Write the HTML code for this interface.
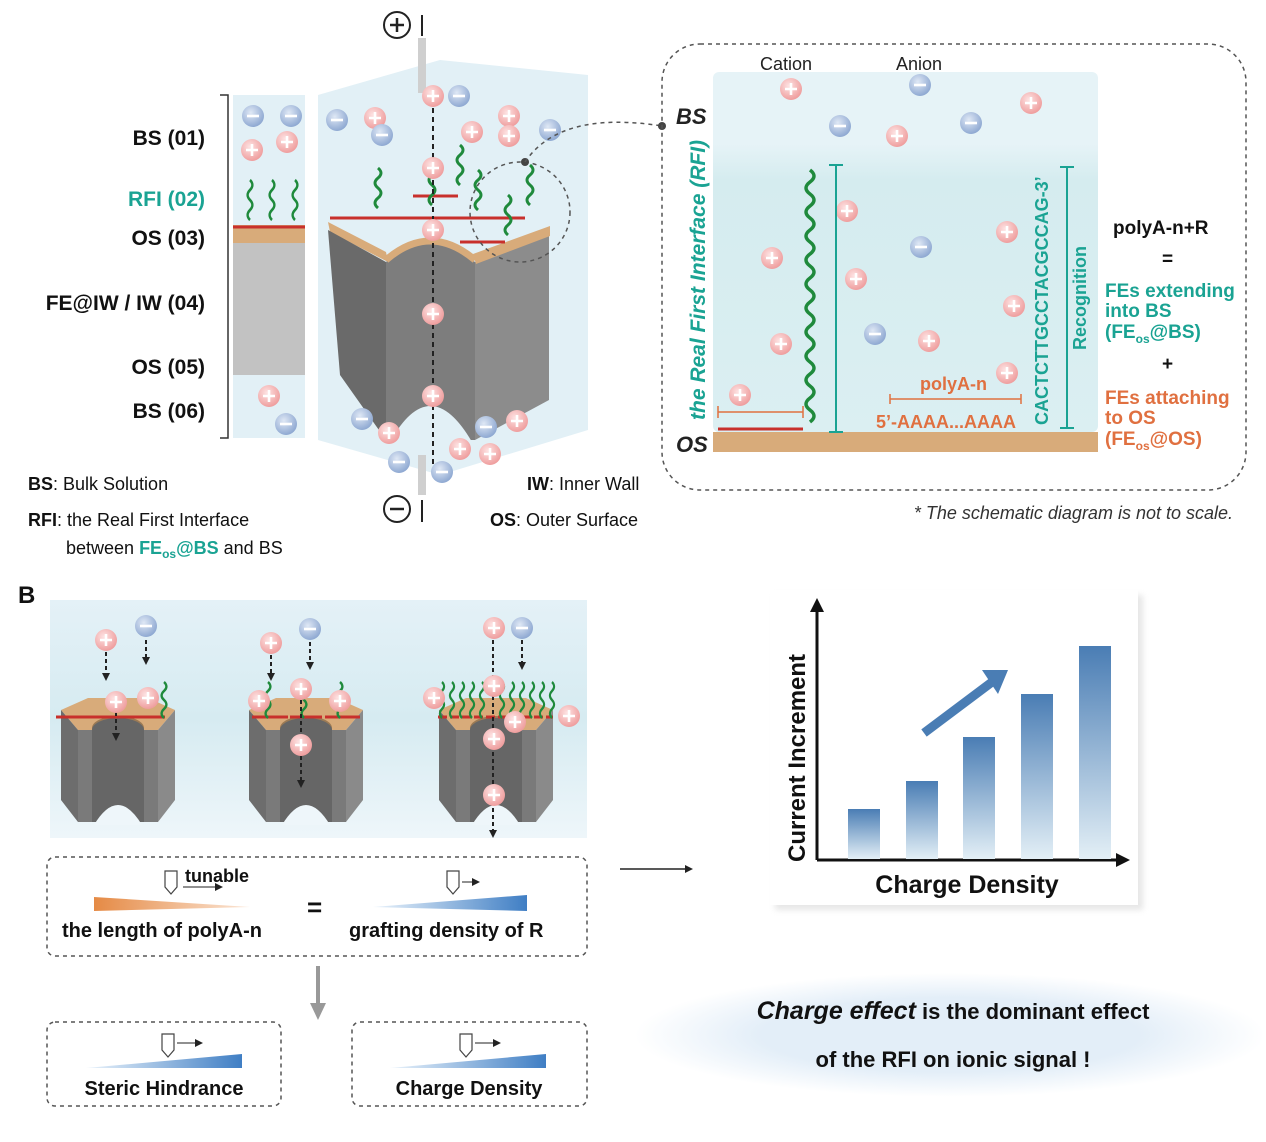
<!DOCTYPE html>
<html><head><meta charset="utf-8"><style>
body{margin:0;background:#fff}
svg{display:block;font-family:"Liberation Sans",Arial,sans-serif}
</style></head><body>
<svg width="1266" height="1142" viewBox="0 0 1266 1142" xmlns="http://www.w3.org/2000/svg">
<defs>
<radialGradient id="gp" cx="40%" cy="35%" r="65%"><stop offset="0" stop-color="#fde3e3"/><stop offset="1" stop-color="#ef9e9e"/></radialGradient>
<radialGradient id="gb" cx="40%" cy="35%" r="65%"><stop offset="0" stop-color="#dfe8f5"/><stop offset="1" stop-color="#8fa9d2"/></radialGradient>
<symbol id="p" viewBox="-12 -12 24 24" overflow="visible"><circle r="11" fill="url(#gp)"/><path d="M-6 0H6M0 -6V6" stroke="#fff" stroke-width="2.6"/></symbol>
<symbol id="n" viewBox="-12 -12 24 24" overflow="visible"><circle r="11" fill="url(#gb)"/><path d="M-6 0H6" stroke="#fff" stroke-width="2.6"/></symbol>
<linearGradient id="bar" x1="0" y1="0" x2="0" y2="1"><stop offset="0" stop-color="#4a7db4"/><stop offset="1" stop-color="#e3eff6"/></linearGradient>
<linearGradient id="bg" x1="0" y1="0" x2="0" y2="1"><stop offset="0" stop-color="#e4f1f7"/><stop offset="0.5" stop-color="#d6ebf1"/><stop offset="1" stop-color="#eef6fa"/></linearGradient>
<linearGradient id="rb" x1="0" y1="0" x2="0" y2="1"><stop offset="0" stop-color="#e6f3f7"/><stop offset="0.2" stop-color="#e6f3f7"/><stop offset="0.3" stop-color="#d5ecef"/><stop offset="1" stop-color="#dbeff2"/></linearGradient>
<linearGradient id="or" x1="0" y1="0" x2="1" y2="0"><stop offset="0" stop-color="#e58a45"/><stop offset="1" stop-color="#fbe6d6"/></linearGradient>
<linearGradient id="bl" x1="0" y1="0" x2="1" y2="0"><stop offset="0" stop-color="#eaf3fb"/><stop offset="1" stop-color="#3f7ec4"/></linearGradient>
<radialGradient id="ell"><stop offset="0.6" stop-color="#e3eef8"/><stop offset="1" stop-color="#fff"/></radialGradient>
<marker id="ah" markerUnits="userSpaceOnUse" markerWidth="8" markerHeight="8" refX="5" refY="4" orient="auto"><path d="M0 0L8 4L0 8z" fill="#222"/></marker>
<path id="w" d="M0 0q6 5 0 10t0 10t0 10t0 10" fill="none" stroke="#1f8a3c" stroke-width="3"/>
<g id="sp">
 <polygon points="-57,10 -30,-2 30,-2 57,10 40,30 -40,30" fill="#d8ab7a"/>
 <ellipse cx="0" cy="28" rx="26" ry="12" fill="#9b7a55"/>
 <polygon points="-57,10 -40,30 -40,122 -57,100" fill="#6d6d6d"/>
 <polygon points="57,10 40,30 40,122 57,100" fill="#8a8a8a"/>
 <rect x="-40" y="30" width="80" height="92" fill="#7a7a7a"/>
 <path d="M-26 30 A26 12 0 0 1 26 30 V122 H-26z" fill="#666"/>
 <path d="M-24 125 Q0 85 24 125z" fill="#eef6fa"/>
</g>
</defs>

<g font-weight="bold" font-size="21" text-anchor="end" fill="#111">
<text x="205" y="145">BS  (01)</text>
<text x="205" y="206" fill="#1aa393">RFI  (02)</text>
<text x="205" y="245">OS  (03)</text>
<text x="205" y="310">FE@IW / IW  (04)</text>
<text x="205" y="374">OS  (05)</text>
<text x="205" y="418">BS  (06)</text>
</g>
<path d="M220 95H228V438H220" fill="none" stroke="#333" stroke-width="1.5"/>
<rect x="233" y="95" width="72" height="130" fill="#e2f0f6"/>
<rect x="233" y="225" width="72" height="18" fill="#d8ab7a"/>
<rect x="233" y="243" width="72" height="132" fill="#c2c2c2"/>
<rect x="233" y="375" width="72" height="63" fill="#e2f0f6"/>
<line x1="233" y1="227" x2="305" y2="227" stroke="#c8302c" stroke-width="3"/>
<use href="#n" x="241" y="104" width="24" height="24"/><use href="#n" x="279" y="104" width="24" height="24"/>
<use href="#p" x="240" y="138" width="24" height="24"/><use href="#p" x="275" y="130" width="24" height="24"/>
<use href="#p" x="257" y="384" width="24" height="24"/><use href="#n" x="274" y="412" width="24" height="24"/>
<use href="#w" transform="translate(250,180) scale(0.8,1)"/><use href="#w" transform="translate(272,180) scale(0.8,1)"/><use href="#w" transform="translate(295,180) scale(0.8,1)"/>

<g font-size="18" fill="#111">
<text x="28" y="490"><tspan font-weight="bold">BS</tspan>: Bulk Solution</text>
<text x="28" y="526"><tspan font-weight="bold">RFI</tspan>: the Real First Interface</text>
<text x="66" y="554">between <tspan fill="#1aa393" font-weight="bold">FE<tspan font-size="12" dy="4">os</tspan><tspan dy="-4">@BS</tspan></tspan> and BS</text>
<text x="527" y="490"><tspan font-weight="bold">IW</tspan>: Inner Wall</text>
<text x="490" y="526"><tspan font-weight="bold">OS</tspan>: Outer Surface</text>
</g>

<polygon points="318,95 440,60 588,75 588,430 440,475 318,440" fill="#e2f0f6"/>
<rect x="418" y="38" width="8" height="55" fill="#cfcfcf"/>
<rect x="418" y="455" width="8" height="40" fill="#cfcfcf"/>
<circle cx="397" cy="25" r="13" fill="none" stroke="#222" stroke-width="2"/><path d="M390 25H404M397 18V32" stroke="#222" stroke-width="2.5"/>
<line x1="422" y1="15" x2="422" y2="36" stroke="#222" stroke-width="2"/>
<circle cx="397" cy="509" r="13" fill="none" stroke="#222" stroke-width="2"/><path d="M390 509H404" stroke="#222" stroke-width="2.5"/>
<line x1="422" y1="500" x2="422" y2="522" stroke="#222" stroke-width="2"/>
<polygon points="328,222 386,252 388,262 330,232" fill="#d8ab7a"/>
<polygon points="328,230 386,262 386,440 340,375" fill="#6a6a6a"/>
<path d="M386 262 Q430 225 475 262 V440 H386z" fill="#7d7d7d"/>
<path d="M386 260 Q430 222 475 260" fill="none" stroke="#d8ab7a" stroke-width="7"/>
<polygon points="475,262 549,230 549,400 475,440" fill="#8c8c8c"/>
<polygon points="473,254 550,226 550,236 476,264" fill="#d8ab7a"/>
<path d="M390 442 Q430 370 472 442z" fill="#e2f0f6"/>
<g stroke="#c8302c" stroke-width="3"><line x1="330" y1="218" x2="525" y2="218"/><line x1="413" y1="196" x2="458" y2="196"/><line x1="460" y1="242" x2="505" y2="242"/></g>
<g><use href="#w" transform="translate(378,168)"/><use href="#w" transform="translate(432,165)"/><use href="#w" transform="translate(460,145)"/><use href="#w" transform="translate(478,170)"/><use href="#w" transform="translate(508,195)"/><use href="#w" transform="translate(530,165)"/></g>
<line x1="433" y1="108" x2="433" y2="470" stroke="#222" stroke-width="2" stroke-dasharray="5,4"/>
<g>
<use href="#p" x="421" y="84" width="24" height="24"/><use href="#n" x="447" y="84" width="24" height="24"/>
<use href="#n" x="325" y="108" width="24" height="24"/><use href="#p" x="363" y="106" width="24" height="24"/><use href="#n" x="370" y="123" width="24" height="24"/>
<use href="#p" x="460" y="120" width="24" height="24"/><use href="#p" x="497" y="104" width="24" height="24"/><use href="#p" x="497" y="124" width="24" height="24"/><use href="#n" x="538" y="118" width="24" height="24"/>
<use href="#p" x="421" y="156" width="24" height="24"/><use href="#p" x="421" y="218" width="24" height="24"/><use href="#p" x="421" y="302" width="24" height="24"/><use href="#p" x="421" y="384" width="24" height="24"/>
<use href="#n" x="350" y="407" width="24" height="24"/><use href="#p" x="377" y="421" width="24" height="24"/><use href="#n" x="474" y="415" width="24" height="24"/><use href="#p" x="505" y="409" width="24" height="24"/>
<use href="#p" x="448" y="437" width="24" height="24"/><use href="#p" x="478" y="442" width="24" height="24"/><use href="#n" x="387" y="450" width="24" height="24"/><use href="#n" x="430" y="460" width="24" height="24"/>
</g>
<ellipse cx="520" cy="212" rx="50" ry="50" fill="none" stroke="#555" stroke-width="1.5" stroke-dasharray="4,4"/>
<circle cx="525" cy="162" r="4" fill="#444"/>
<path d="M525 162 Q560 110 662 126" fill="none" stroke="#555" stroke-width="1.5" stroke-dasharray="4,4"/>
<circle cx="662" cy="126" r="4" fill="#444"/>

<rect x="662" y="44" width="584" height="446" rx="38" fill="none" stroke="#555" stroke-width="1.5" stroke-dasharray="4,4"/>
<rect x="713" y="72" width="385" height="360" rx="6" fill="url(#rb)"/>
<rect x="713" y="432" width="385" height="20" fill="#d8ab7a"/>
<text x="760" y="70" font-size="18" fill="#222">Cation</text><text x="896" y="70" font-size="18" fill="#222">Anion</text>
<text x="676" y="124" font-size="22" font-weight="bold" font-style="italic" fill="#222">BS</text>
<text x="676" y="452" font-size="22" font-weight="bold" font-style="italic" fill="#222">OS</text>
<text transform="translate(705,420) rotate(-90)" font-size="21" font-weight="bold" font-style="italic" fill="#1aa393">the Real First Interface (RFI)</text>
<g>
<use href="#p" x="779" y="77" width="24" height="24"/><use href="#n" x="908" y="73" width="24" height="24"/><use href="#p" x="1019" y="91" width="24" height="24"/>
<use href="#n" x="828" y="114" width="24" height="24"/><use href="#p" x="885" y="124" width="24" height="24"/><use href="#n" x="959" y="111" width="24" height="24"/>
<use href="#p" x="835" y="199" width="24" height="24"/><use href="#p" x="760" y="246" width="24" height="24"/><use href="#p" x="844" y="267" width="24" height="24"/><use href="#n" x="909" y="235" width="24" height="24"/><use href="#p" x="995" y="220" width="24" height="24"/>
<use href="#p" x="769" y="332" width="24" height="24"/><use href="#n" x="863" y="322" width="24" height="24"/><use href="#p" x="917" y="329" width="24" height="24"/><use href="#p" x="1002" y="294" width="24" height="24"/><use href="#p" x="995" y="361" width="24" height="24"/><use href="#p" x="728" y="383" width="24" height="24"/>
</g>
<path d="M810 170q8 6 0 12t0 12t0 12t0 12t0 12t0 12t0 12t0 12t0 12t0 12t0 12t0 12t0 12t0 12t0 12t0 12t0 12t0 12t0 12t0 12t0 12" fill="none" stroke="#1f8a3c" stroke-width="3.5"/>
<line x1="718" y1="429" x2="803" y2="429" stroke="#c8302c" stroke-width="3"/>
<path d="M718 406V418M718 412H803M803 406V418" stroke="#e07040" stroke-width="1.5" fill="none"/>
<path d="M829 165H843M836 165V432M829 432H843" stroke="#1aa393" stroke-width="2" fill="none"/>
<path d="M1060 167H1074M1067 167V428M1060 428H1074" stroke="#1aa393" stroke-width="2" fill="none"/>
<text transform="translate(1086,350) rotate(-90)" font-size="18" font-weight="bold" fill="#1aa393">Recognition</text>
<text transform="translate(1048,425) rotate(-90)" font-size="18" font-weight="bold" fill="#1aa393">CACTCTTGCCTACGCCAG-3’</text>
<path d="M890 394V404M890 399H1021M1021 394V404" stroke="#e07040" stroke-width="1.5" fill="none"/>
<text x="920" y="390" font-size="18" font-weight="bold" fill="#e07040">polyA-n</text>
<text x="876" y="428" font-size="18" font-weight="bold" fill="#e07040">5’-AAAA...AAAA</text>
<g font-size="19" font-weight="bold">
<text x="1113" y="234" fill="#111">polyA-n+R</text>
<text x="1162" y="265" fill="#111">=</text>
<text x="1105" y="297" fill="#1aa393">FEs extending</text>
<text x="1105" y="317" fill="#1aa393">into BS</text>
<text x="1105" y="338" fill="#1aa393">(FE<tspan font-size="12" dy="5">os</tspan><tspan dy="-5">@BS)</tspan></text>
<text x="1162" y="370" fill="#111">+</text>
<text x="1105" y="404" fill="#e07040">FEs attaching</text>
<text x="1105" y="424" fill="#e07040">to OS</text>
<text x="1105" y="445" fill="#e07040">(FE<tspan font-size="12" dy="5">os</tspan><tspan dy="-5">@OS)</tspan></text>
</g>
<text x="1233" y="519" font-size="18" font-style="italic" fill="#333" text-anchor="end">* The schematic diagram is not to scale.</text>

<text x="18" y="603" font-size="24" font-weight="bold" fill="#111">B</text>
<rect x="50" y="600" width="537" height="238" fill="url(#bg)"/>
<use href="#sp" transform="translate(118,700)"/>
<use href="#sp" transform="translate(306,700)"/>
<use href="#sp" transform="translate(496,700)"/>
<g stroke="#c8302c" stroke-width="3"><line x1="56" y1="717" x2="165" y2="717"/><line x1="252" y1="717" x2="288" y2="717"/><line x1="290" y1="717" x2="322" y2="717"/><line x1="325" y1="717" x2="360" y2="717"/><line x1="438" y1="717" x2="553" y2="717" stroke-dasharray="9,3"/></g>
<use href="#w" transform="translate(164,682) scale(0.8,0.9)"/>
<use href="#w" transform="translate(268,682) scale(0.8,0.9)"/><use href="#w" transform="translate(304,682) scale(0.8,0.9)"/><use href="#w" transform="translate(340,682) scale(0.8,0.9)"/>
<g><use href="#w" transform="translate(442,682) scale(0.7,0.9)"/><use href="#w" transform="translate(452,682) scale(0.7,0.9)"/><use href="#w" transform="translate(462,682) scale(0.7,0.9)"/><use href="#w" transform="translate(472,682) scale(0.7,0.9)"/><use href="#w" transform="translate(482,682) scale(0.7,0.9)"/><use href="#w" transform="translate(502,682) scale(0.7,0.9)"/><use href="#w" transform="translate(512,682) scale(0.7,0.9)"/><use href="#w" transform="translate(522,682) scale(0.7,0.9)"/><use href="#w" transform="translate(532,682) scale(0.7,0.9)"/><use href="#w" transform="translate(542,682) scale(0.7,0.9)"/><use href="#w" transform="translate(552,682) scale(0.7,0.9)"/></g>
<g stroke="#222" stroke-width="2" stroke-dasharray="4,3" marker-end="url(#ah)">
<line x1="106" y1="652" x2="106" y2="678"/><line x1="146" y1="640" x2="146" y2="662"/><line x1="116" y1="712" x2="116" y2="738"/>
<line x1="271" y1="655" x2="271" y2="678"/><line x1="310" y1="642" x2="310" y2="667"/><line x1="301" y1="700" x2="301" y2="785"/>
<line x1="493" y1="640" x2="493" y2="835"/><line x1="522" y1="640" x2="522" y2="667"/>
</g>
<g>
<use href="#p" x="94" y="628" width="24" height="24"/><use href="#n" x="134" y="614" width="24" height="24"/><use href="#p" x="104" y="690" width="24" height="24"/><use href="#p" x="136" y="686" width="24" height="24"/>
<use href="#p" x="259" y="631" width="24" height="24"/><use href="#n" x="298" y="617" width="24" height="24"/><use href="#p" x="289" y="677" width="24" height="24"/><use href="#p" x="247" y="689" width="24" height="24"/><use href="#p" x="328" y="689" width="24" height="24"/><use href="#p" x="289" y="733" width="24" height="24"/>
<use href="#p" x="482" y="616" width="24" height="24"/><use href="#n" x="510" y="616" width="24" height="24"/><use href="#p" x="482" y="674" width="24" height="24"/><use href="#p" x="422" y="686" width="24" height="24"/><use href="#p" x="503" y="710" width="24" height="24"/><use href="#p" x="557" y="704" width="24" height="24"/><use href="#p" x="482" y="727" width="24" height="24"/><use href="#p" x="482" y="783" width="24" height="24"/>
</g>

<rect x="47" y="857" width="540" height="99" rx="8" fill="none" stroke="#555" stroke-width="1.5" stroke-dasharray="4,4"/>
<polygon points="94,897 250,907 94,911" fill="url(#or)"/>
<polygon points="373,907 527,895 527,911" fill="url(#bl)"/>
<path d="M165 871h12v16l-6 7l-6-7z" fill="#fff" stroke="#444" stroke-width="1.2"/>
<path d="M447 871h12v16l-6 7l-6-7z" fill="#fff" stroke="#444" stroke-width="1.2"/>
<line x1="462" y1="882" x2="477" y2="882" stroke="#222" stroke-width="1" marker-end="url(#ah)"/>
<line x1="183" y1="887" x2="220" y2="887" stroke="#222" stroke-width="1" marker-end="url(#ah)"/>
<text x="185" y="882" font-size="18" font-weight="bold" fill="#111">tunable</text>
<text x="62" y="937" font-size="20" font-weight="bold" fill="#111">the length of polyA-n</text>
<text x="307" y="916" font-size="26" font-weight="bold" fill="#111">=</text>
<text x="349" y="937" font-size="20" font-weight="bold" fill="#111">grafting density of R</text>
<path d="M318 966V1005" stroke="#999" stroke-width="4"/><path d="M310 1003L318 1020L326 1003z" fill="#999"/>
<rect x="47" y="1022" width="234" height="84" rx="8" fill="none" stroke="#555" stroke-width="1.5" stroke-dasharray="4,4"/>
<rect x="352" y="1022" width="235" height="84" rx="8" fill="none" stroke="#555" stroke-width="1.5" stroke-dasharray="4,4"/>
<polygon points="86,1068 242,1054 242,1068" fill="url(#bl)"/>
<polygon points="390,1068 546,1054 546,1068" fill="url(#bl)"/>
<path d="M162 1034h12v16l-6 7l-6-7z" fill="#fff" stroke="#444" stroke-width="1.2"/><line x1="177" y1="1043" x2="200" y2="1043" stroke="#222" stroke-width="1" marker-end="url(#ah)"/>
<path d="M460 1034h12v16l-6 7l-6-7z" fill="#fff" stroke="#444" stroke-width="1.2"/><line x1="475" y1="1043" x2="498" y2="1043" stroke="#222" stroke-width="1" marker-end="url(#ah)"/>
<text x="164" y="1095" font-size="20" font-weight="bold" fill="#111" text-anchor="middle">Steric Hindrance</text>
<text x="469" y="1095" font-size="20" font-weight="bold" fill="#111" text-anchor="middle">Charge Density</text>

<line x1="620" y1="869" x2="690" y2="869" stroke="#222" stroke-width="1.5" marker-end="url(#ah)"/>

<rect x="775" y="595" width="368" height="315" fill="#bbb" opacity="0.35" filter="blur(3px)"/>
<rect x="770" y="590" width="368" height="315" fill="#fff"/>
<line x1="817" y1="860" x2="817" y2="608" stroke="#111" stroke-width="3"/><path d="M810 612L817 598L824 612z" fill="#111"/>
<line x1="817" y1="860" x2="1120" y2="860" stroke="#111" stroke-width="3"/><path d="M1116 853L1130 860L1116 867z" fill="#111"/>
<rect x="848" y="809" width="32" height="50" fill="url(#bar)"/>
<rect x="906" y="781" width="32" height="78" fill="url(#bar)"/>
<rect x="963" y="737" width="32" height="122" fill="url(#bar)"/>
<rect x="1021" y="694" width="32" height="165" fill="url(#bar)"/>
<rect x="1079" y="646" width="32" height="213" fill="url(#bar)"/>
<path d="M924 733L992 682" stroke="#4a7db4" stroke-width="9"/><path d="M982 670L1008 670L998 694z" fill="#4a7db4"/>
<text transform="translate(805,862) rotate(-90)" font-size="24" font-weight="bold" fill="#111">Current Increment</text>
<text x="967" y="893" font-size="25" font-weight="bold" fill="#111" text-anchor="middle">Charge Density</text>

<ellipse cx="950" cy="1035" rx="315" ry="62" fill="url(#ell)"/>
<text x="953" y="1019" font-size="22" font-weight="bold" fill="#111" text-anchor="middle"><tspan font-style="italic" font-size="25">Charge effect</tspan> is the dominant effect</text>
<text x="953" y="1067" font-size="22" font-weight="bold" fill="#111" text-anchor="middle">of the RFI on ionic signal !</text>
</svg>
</body></html>
